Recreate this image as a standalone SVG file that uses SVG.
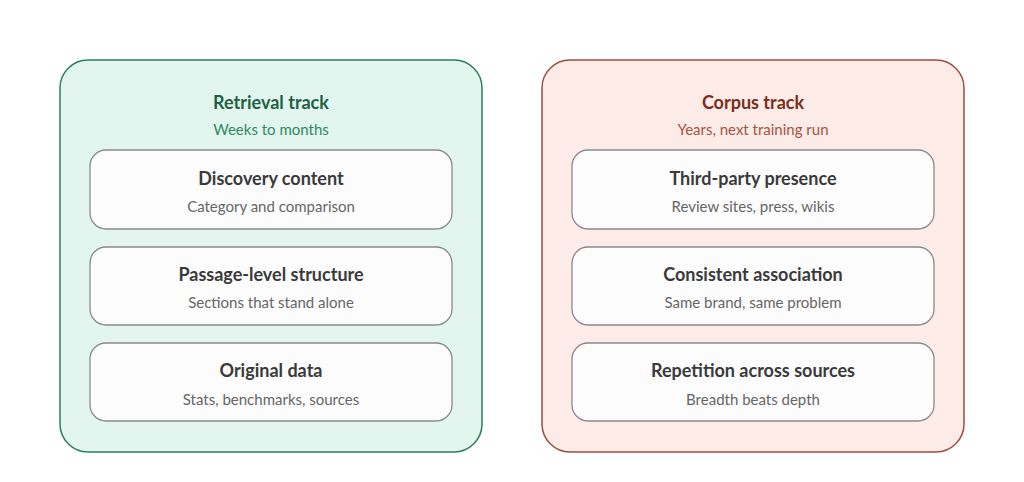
<svg xmlns="http://www.w3.org/2000/svg" width="1024" height="482" viewBox="0 0 1024 482">
<style>
text{font-family:Lato,"Open Sans",sans-serif;text-anchor:middle}
.t{font-size:18px;font-weight:bold}
.s{font-size:15px}
.card{fill:#fcfcfc;stroke:#8a8a8a;stroke-width:1.3}
.ct{fill:#3a3a3a;font-size:18px;font-weight:bold}
.cs{fill:#666;font-size:15px}
</style>
<rect width="1024" height="482" fill="#fff"/>
<g id="retrieval">
<rect x="60" y="60" width="422" height="392" rx="28" fill="#e2f5ee" stroke="#2e7d5b" stroke-width="1.5"/>
<text x="271" y="109" class="t" fill="#1e6145">Retrieval track</text>
<text x="271" y="135" class="s" fill="#2e8a62">Weeks to months</text>
</g>
<g id="discovery"><rect class="card" x="90" y="150" width="362" height="79" rx="16"/><text x="271" y="185" class="ct">Discovery content</text><text x="271" y="212" class="cs">Category and comparison</text></g>
<g id="passage"><rect class="card" x="90" y="247" width="362" height="78" rx="16"/><text x="271" y="281" class="ct">Passage-level structure</text><text x="271" y="308" class="cs">Sections that stand alone</text></g>
<g id="original"><rect class="card" x="90" y="343" width="362" height="78" rx="16"/><text x="271" y="377" class="ct">Original data</text><text x="271" y="405" class="cs">Stats, benchmarks, sources</text></g>
<g id="corpus">
<rect x="542" y="60" width="422" height="392" rx="28" fill="#fcebe7" stroke="#9a5040" stroke-width="1.5"/>
<text x="753" y="109" class="t" fill="#7a2e1e">Corpus track</text>
<text x="753" y="135" class="s" fill="#a65440">Years, next training run</text>
</g>
<g id="thirdparty"><rect class="card" x="572" y="150" width="362" height="79" rx="16"/><text x="753" y="185" class="ct">Third-party presence</text><text x="753" y="212" class="cs">Review sites, press, wikis</text></g>
<g id="consistent"><rect class="card" x="572" y="247" width="362" height="78" rx="16"/><text x="753" y="281" class="ct">Consistent association</text><text x="753" y="308" class="cs">Same brand, same problem</text></g>
<g id="repetition"><rect class="card" x="572" y="343" width="362" height="78" rx="16"/><text x="753" y="377" class="ct">Repetition across sources</text><text x="753" y="405" class="cs">Breadth beats depth</text></g>
<g id="connectors"/>
</svg>
